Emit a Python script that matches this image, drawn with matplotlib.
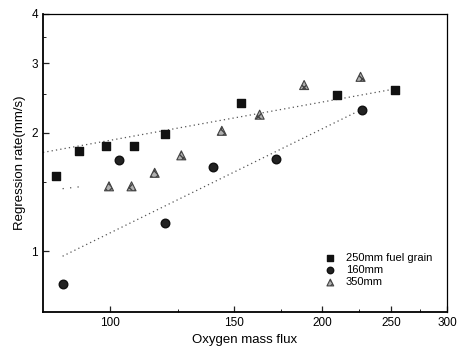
import matplotlib
matplotlib.use("Agg")
import matplotlib.pyplot as plt
from matplotlib.ticker import FixedLocator, NullFormatter, FixedFormatter

plt.rcParams['font.family'] = ['Liberation Sans', 'DejaVu Sans']

# Data
sq_x = [83.9, 90.5, 98.7, 108.3, 119.9, 153.5, 210, 253]
sq_y = [1.55, 1.80, 1.85, 1.85, 1.98, 2.37, 2.49, 2.56]

ci_x = [85.8, 103, 119.6, 140.1, 172, 227.4]
ci_y = [0.824, 1.70, 1.18, 1.63, 1.71, 2.28]

tr_x = [99.8, 107.4, 115.8, 126.3, 144.1, 163, 188.4, 226.4]
tr_y = [1.46, 1.46, 1.58, 1.75, 2.02, 2.22, 2.64, 2.77]

# Fit lines (endpoints)
sq_fit_x = [80.5, 253]
sq_fit_y = [1.78, 2.58]
ci_fit_x = [85.8, 224]
ci_fit_y = [0.97, 2.26]
tr_fit_x = [85.8, 92]
tr_fit_y = [1.44, 1.46]

x_major = [100, 150, 200, 250, 300]
x_minor = [125, 175, 225, 275]
y_major = [1, 2, 3, 4]
y_minor = [1.5, 2.5, 3.5]

fig = plt.figure(figsize=(4.61, 3.49), dpi=100)
ax = fig.add_axes([43/461, 37/349, 404/461, 298/349])
ax.set_xscale('log')
ax.set_yscale('log')
ax.set_xlim(80.5, 300)
ax.set_ylim(0.70, 4.0)

ax.plot(sq_fit_x, sq_fit_y, linestyle=(0, (1, 2.5)), color='#555555', lw=0.9)
ax.plot(ci_fit_x, ci_fit_y, linestyle=(0, (1, 2.5)), color='#555555', lw=0.9)
ax.plot(tr_fit_x, tr_fit_y, linestyle=(0, (1, 5)), color='#555555', lw=0.9)

ax.scatter(sq_x, sq_y, marker='s', s=36, color='#111111', label='250mm fuel grain', zorder=3)
ax.scatter(ci_x, ci_y, marker='o', s=38, color='#222222', edgecolors='#111111', label='160mm', zorder=3)
ax.scatter(tr_x, tr_y, marker='^', s=42, color='#b0b0b0', edgecolors='#444444', linewidths=0.8,
           hatch='xxxx', label='350mm', zorder=3)

ax.xaxis.set_major_locator(FixedLocator(x_major))
ax.xaxis.set_major_formatter(FixedFormatter([str(v) for v in x_major]))
ax.xaxis.set_minor_locator(FixedLocator(x_minor))
ax.xaxis.set_minor_formatter(NullFormatter())
ax.yaxis.set_major_locator(FixedLocator(y_major))
ax.yaxis.set_major_formatter(FixedFormatter([str(v) for v in y_major]))
ax.yaxis.set_minor_locator(FixedLocator(y_minor))
ax.yaxis.set_minor_formatter(NullFormatter())

ax.tick_params(which='both', direction='in', top=False, right=False, labelsize=8.5, color='#222222')
ax.tick_params(which='major', length=4, width=0.9)
ax.tick_params(which='minor', length=2.5, width=0.7)

for side in ['left', 'bottom']:
    ax.spines[side].set_linewidth(1.3)
for side in ['top', 'right']:
    ax.spines[side].set_linewidth(0.9)

ax.set_xlabel('Oxygen mass flux', fontsize=9.5, labelpad=4)
ax.set_ylabel('Regression rate(mm/s)', fontsize=9.5, labelpad=4)

ax.legend(loc='lower right', bbox_to_anchor=(0.98, 0.06), frameon=False, fontsize=8,
          handletextpad=0.4, borderaxespad=0.2, labelspacing=0.2, markerscale=0.75)

fig.savefig('out.png', dpi=100)
